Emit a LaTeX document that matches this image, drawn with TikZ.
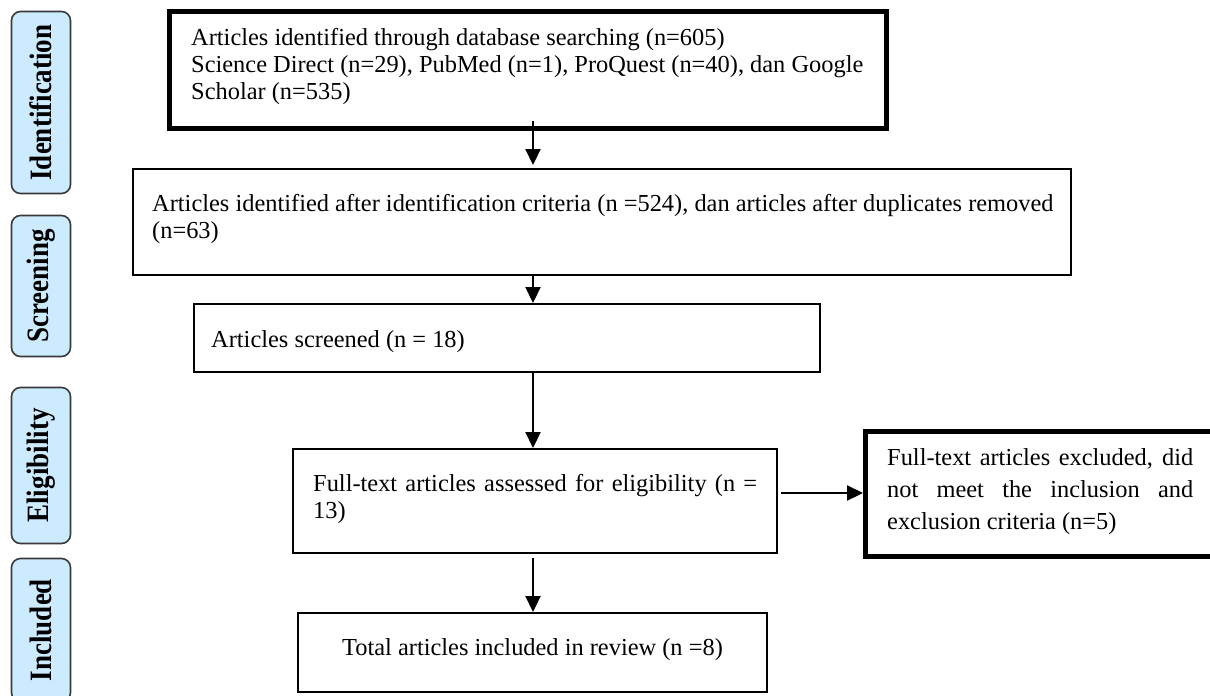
\documentclass[tikz,border=0pt]{standalone}
\usepackage{fontspec}
\setmainfont{Liberation Serif}
\usetikzlibrary{arrows.meta}
\definecolor{phasefill}{HTML}{CCEBFF}
\definecolor{phaseline}{HTML}{3A3A3A}
\newcommand{\phaselabel}[1]{\scalebox{1}[1.15]{#1}}
\begin{document}
\begin{tikzpicture}[x=1pt,y=-1pt,
  phase/.style={draw=phaseline, line width=1.6pt, fill=phasefill, rounded corners=9pt, rotate=90, minimum height=59pt, inner sep=0pt, font=\fontsize{27}{30}\selectfont\bfseries},
  thinbox/.style={draw, line width=2pt, inner sep=0pt},
  thickbox/.style={draw, line width=5pt, inner sep=0pt},
  txt/.style={anchor=base west, inner sep=0pt, font=\fontsize{24.4}{27}\selectfont},
  arr/.style={line width=2.2pt, -{Triangle[length=16pt,width=15pt]}}]
\useasboundingbox (0,0) rectangle (1210,696);

% phase labels
\node[phase, minimum width=182pt] (pid) at (41,102.5) {\phaselabel{Identification}};
\node[phase, minimum width=141pt] (psc) at (41,286) {\phaselabel{Screening}};
\node[phase, minimum width=156pt] (pel) at (41,465.5) {\phaselabel{Eligibility}};
\node[phase, minimum width=143pt] (pin) at (41,630) {\phaselabel{Included}};

% boxes
\node[thickbox, minimum width=717pt, minimum height=117pt] (b1) at (528,70) {};
\node[thinbox, minimum width=938pt, minimum height=106pt] (b2) at (602,222) {};
\node[thinbox, minimum width=626pt, minimum height=68pt] (b3) at (507,338) {};
\node[thinbox, minimum width=484pt, minimum height=104pt] (b4) at (535,501) {};
\node[thickbox, minimum width=354.5pt, minimum height=125pt] (b5) at (1042.75,494) {};
\node[thinbox, minimum width=469pt, minimum height=79pt] (b6) at (532.5,652.5) {};

% texts
\node[txt] (t1a) at (191,45) {Articles identified through database searching (n=605)};
\node[txt] (t1b) at (191,72) {Science Direct (n=29), PubMed (n=1), ProQuest (n=40), dan Google};
\node[txt] (t1c) at (191,99) {Scholar (n=535)};
\node[txt] (t2a) at (152,211) {Articles identified after identification criteria (n =524), dan articles after duplicates removed};
\node[txt] (t2b) at (152,238) {(n=63)};
\node[txt] (t3) at (211,347) {Articles screened (n = 18)};
\node[txt] (t4a) at (313,491) {\makebox[444pt][s]{Full-text articles assessed for eligibility (n =}};
\node[txt] (t4b) at (313,518) {13)};
\node[txt] (t5a) at (887,465) {\makebox[306pt][s]{Full-text articles excluded, did}};
\node[txt] (t5b) at (887,497) {\makebox[306pt][s]{not meet the inclusion and}};
\node[txt] (t5c) at (887,529) {exclusion criteria (n=5)};
\node[txt, anchor=base] (t6) at (532.5,655) {Total articles included in review (n =8)};

% arrows
\coordinate (ax) at (533,0);
\coordinate (ay) at (0,493);
\draw[arr] ([yshift=10pt]b1.south -| ax) -- ([yshift=3pt]b2.north -| ax);
\draw[arr] (b2.south -| ax) -- (b3.north -| ax);
\draw[arr] (b3.south -| ax) -- (b4.north -| ax);
\draw[arr] ([yshift=-4pt]b4.south -| ax) -- (b6.north -| ax);
\draw[arr] ([xshift=3pt]b4.east |- ay) -- (b5.west |- ay);
\end{tikzpicture}
\end{document}
